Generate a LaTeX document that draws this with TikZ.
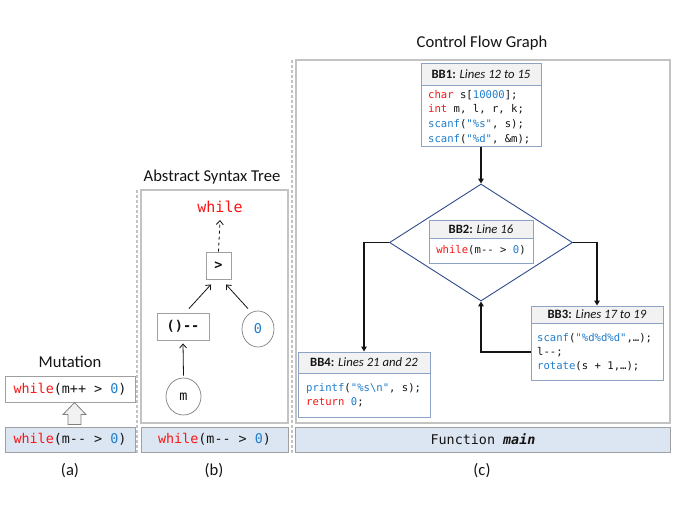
\documentclass[tikz,border=0pt]{standalone}
\usepackage{fontspec}
\setmainfont{Carlito}
\setmonofont{DejaVu Sans Mono}
\usetikzlibrary{arrows.meta,shapes.geometric,calc}
\definecolor{kwred}{RGB}{250,20,20}
\definecolor{fnblue}{RGB}{30,125,205}
\definecolor{panelgray}{RGB}{195,195,195}
\definecolor{bargray}{RGB}{160,160,160}
\definecolor{barfill}{RGB}{220,230,242}
\definecolor{bbborder}{RGB}{142,162,198}
\definecolor{headfill}{RGB}{242,242,242}
\definecolor{diablue}{RGB}{47,76,140}
\definecolor{textblack}{RGB}{20,20,20}
\newcommand{\ckw}[1]{\textcolor{kwred}{#1}}
\newcommand{\cfn}[1]{\textcolor{fnblue}{#1}}
\newcommand{\bigcode}{\ttfamily\fontsize{13.4}{16}\selectfont}
\begin{document}
\begin{tikzpicture}[x=1pt,y=-1pt,
  label16/.style={font=\fontsize{16.6}{19}\selectfont, text=textblack, inner sep=0pt},
  panel/.style={draw=panelgray, line width=1.3pt, fill=white, inner sep=0pt},
  barbox/.style={draw=bargray, line width=0.9pt, fill=barfill, inner sep=0pt, font=\bigcode, text=textblack},
  mutbox/.style={draw=bargray, line width=0.9pt, fill=white, inner sep=0pt, font=\bigcode, text=textblack},
  sepline/.style={draw=panelgray, line width=1.4pt, dash pattern=on 3pt off 2pt},
  blockarrow/.style={draw=gray, line width=0.8pt, fill=headfill},
  astbox/.style={draw=bargray, line width=0.9pt, fill=white, inner sep=0pt, font=\ttfamily\fontsize{13.5}{16}\selectfont, text=textblack},
  astcirc/.style={ellipse, draw=gray, line width=0.7pt, fill=white, inner sep=0pt, font=\ttfamily\fontsize{13.5}{16}\selectfont, text=textblack},
  astarrow/.style={draw=textblack, line width=0.8pt, -{Straight Barb[length=4pt,width=7pt]}},
  bbbox/.style={draw=bbborder, line width=1pt, fill=white, inner sep=0pt},
  bbhead/.style={draw=bbborder, line width=1pt, fill=headfill, inner sep=0pt, font=\fontsize{12.7}{15}\selectfont, text=textblack},
  codeline/.style={anchor=base west, inner sep=0pt, font=\ttfamily\fontsize{10.6}{13}\selectfont, text=textblack},
  cfgarrow/.style={draw=textblack, line width=1.3pt, -{Triangle[length=5pt,width=5.5pt]}}
]
\useasboundingbox (0,0) rectangle (675,506);
% separators
\coordinate (sepAtop) at (137,190);
\coordinate (sepAbot) at (137,455);
\coordinate (sepBtop) at (292,60);
\coordinate (sepBbot) at (292,455);
\draw[sepline] (sepAtop) -- (sepAbot);
\draw[sepline] (sepBtop) -- (sepBbot);

% ---------- panel (a)
\node[label16] (mutlabel) at (70,362) {Mutation};
\node[mutbox, minimum width=130pt, minimum height=26pt] (mut) at (70,389) {\ckw{while}(m++ > \cfn{0})};
\node[barbox, minimum width=130pt, minimum height=25pt] (orig) at (70,439.5) {\ckw{while}(m-{}- > \cfn{0})};
\draw[blockarrow] ($(orig.north)+(-2,-2)$) -- ($(orig.north)+(-2,-12)$) -- ($(orig.north)+(-7,-12)$)
  -- ($(orig.north)+(4.5,-24)$) -- ($(orig.north)+(16,-12)$) -- ($(orig.north)+(11,-12)$)
  -- ($(orig.north)+(11,-2)$) -- cycle;
\node[label16] (capa) at (70,471) {(a)};

% ---------- panel (b)
\node[label16] (asttitle) at (212,177) {Abstract Syntax Tree};
\node[panel, minimum width=147pt, minimum height=233pt] (astpanel) at (214.5,306.5) {};
\node[inner sep=1pt, font=\ttfamily\fontsize{15}{17}\selectfont, text=kwred] (astwhile) at (220,207) {while};
\node[astbox, minimum width=25pt, minimum height=27pt] (gt) at (218.5,265.5) {\textbf{>}};
\node[astbox, minimum width=52pt, minimum height=27pt] (paren) at (183,326.5) {\textbf{()-{}-}};
\node[astcirc, minimum width=32pt, minimum height=36pt] (zero) at (258,329) {\cfn{0}};
\node[astcirc, minimum width=35pt, minimum height=37pt] (mnode) at (183.5,396.5) {m};
\draw[astarrow, dashed] (gt.north) -- ([yshift=-6pt]astwhile.south);
\draw[astarrow] ([xshift=6pt,yshift=4pt]paren.north) -- ([xshift=-7.5pt,yshift=-5pt]gt.south);
\draw[astarrow] ([xshift=-10pt,yshift=2pt]zero.north) -- ([xshift=7.5pt,yshift=-5pt]gt.south);
\draw[astarrow] ([yshift=2pt]mnode.north) -- ([yshift=-3pt]paren.south);
\node[barbox, minimum width=147pt, minimum height=25pt] (astbar) at (214.5,439.5) {\ckw{while}(m-{}- > \cfn{0})};
\node[label16] (capb) at (214,471) {(b)};

% ---------- panel (c)
\node[label16] (cfgtitle) at (482,43) {Control Flow Graph};
\node[panel, minimum width=374pt, minimum height=363pt] (cfgpanel) at (483,241.5) {};
\node[barbox, minimum width=375pt, minimum height=25pt] (mainbar) at (483,439.5) {Function \textbf{\textit{main}}};
\node[label16] (capc) at (482,471) {(c)};

% BB1
\node[bbbox, minimum width=120pt, minimum height=83pt] (bb1) at (481,104.5) {};
\node[bbhead, minimum width=120pt, minimum height=22pt, anchor=north] (bb1h) at (bb1.north) {\textbf{BB1:} \textit{Lines 12 to 15}};
\node[codeline] (bb1a) at (428,98) {\ckw{char} s[\cfn{10000}];};
\node[codeline] (bb1b) at (428,112.7) {\ckw{int} m, l, r, k;};
\node[codeline] (bb1c) at (428,127.4) {\cfn{scanf}(\cfn{"\%s"}, s);};
\node[codeline] (bb1d) at (428,142) {\cfn{scanf}(\cfn{"\%d"}, \&m);};

% BB2 (diamond)
\node[diamond, draw=diablue, line width=0.9pt, fill=white, inner sep=0pt, minimum width=183pt, minimum height=117pt] (dia) at (481,242.5) {};
\node[bbbox, minimum width=104pt, minimum height=43pt] (bb2) at (481,241.5) {};
\node[bbhead, minimum width=104pt, minimum height=18pt, anchor=north] (bb2h) at (bb2.north) {\textbf{BB2:} \textit{Line 16}};
\node[inner sep=0pt, font=\ttfamily\fontsize{10.6}{13}\selectfont, text=textblack] (bb2a) at (481,250.5) {\ckw{while}(m-{}- > \cfn{0})};

% BB3
\node[bbbox, minimum width=132pt, minimum height=74pt] (bb3) at (597,343) {};
\node[bbhead, minimum width=132pt, minimum height=17pt, anchor=north] (bb3h) at (bb3.north) {\textbf{BB3:} \textit{Lines 17 to 19}};
\node[codeline] (bb3a) at (537,341.5) {\cfn{scanf}(\cfn{"\%d\%d\%d"},…);};
\node[codeline] (bb3b) at (537,355.5) {l-{}-;};
\node[codeline] (bb3c) at (537,369.5) {\cfn{rotate}(s + 1,…);};

% BB4
\node[bbbox, minimum width=132pt, minimum height=65pt] (bb4) at (364,384.5) {};
\node[bbhead, minimum width=132pt, minimum height=21pt, anchor=north] (bb4h) at (bb4.north) {\textbf{BB4:} \textit{Lines 21 and 22}};
\node[codeline] (bb4a) at (306,391.5) {\cfn{printf}(\cfn{"\%s\textbackslash n"}, s);};
\node[codeline] (bb4b) at (306,405.5) {\ckw{return} \cfn{0};};

% CFG edges
\draw[cfgarrow] (bb1.south) -- (dia.north);
\draw[cfgarrow] (dia.west) -| (bb4.north);
\draw[cfgarrow] (dia.east) -| (bb3.north);
\draw[cfgarrow] ([yshift=-9pt]bb3.west) -| (dia.south);
\end{tikzpicture}
\end{document}
